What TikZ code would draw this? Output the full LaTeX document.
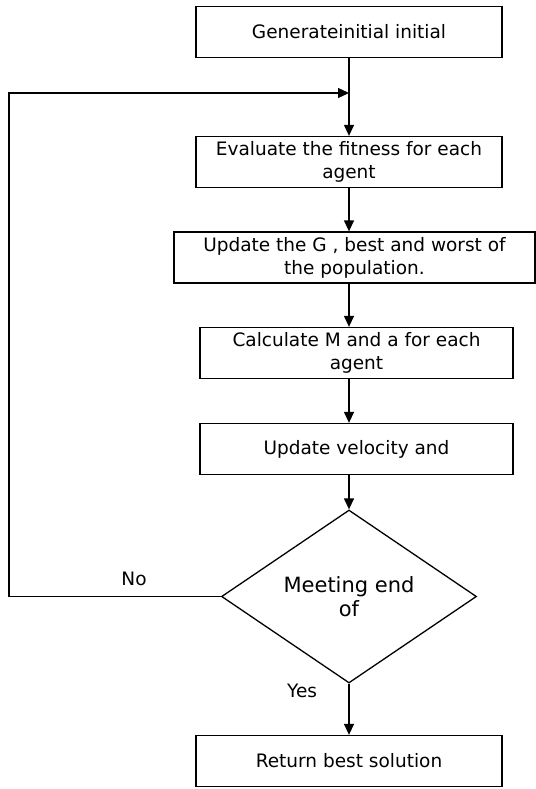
\documentclass[tikz,border=0pt]{standalone}
\usepackage{fontspec}
\setmainfont{DejaVu Sans}
\usetikzlibrary{shapes.geometric,arrows.meta}

\begin{document}
\begin{tikzpicture}[x=1pt, y=1pt, line width=1.3pt,
    box/.style = {draw, rectangle, minimum width=306pt, minimum height=51pt, align=center, font=\fontsize{18.5}{23}\selectfont, inner sep=2pt},
    decision/.style = {draw, diamond, minimum width=255pt, minimum height=173pt, aspect=1.47, inner sep=0pt, align=center, font=\fontsize{21}{24}\selectfont},
    lbl/.style = {font=\fontsize{18.5}{22}\selectfont},
    arr/.style = {-{Triangle[length=11pt,width=10pt]}}]
		\useasboundingbox (0,0) rectangle (535,-789);
		\node[box] (gen) at (349,-32) {Generateinitial initial};
		\node[box] (eval) at (349,-162) {Evaluate the fitness for each\\agent};
		\node[box, minimum width=361pt] (upd) at (354.5,-257.5) {Update the G , best and worst of\\the population.};
		\node[box, minimum width=313pt] (calc) at (356.5,-353) {Calculate M and a for each\\agent};
		\node[box, minimum width=313pt] (vel) at (356.5,-449) {Update velocity and};
		\node[decision] (meet) at (349,-596.5) {Meeting end\\of};
		\node[box] (ret) at (349,-761) {Return best solution};
		\coordinate (corner) at (9,-596.5);
		\coordinate (top) at (9,-93);
		\coordinate (join) at (349,-93);
		
		\draw[arr] (gen) -- (eval);
		\draw[arr] (eval) -- (eval |- upd.north);
		\draw[arr] (eval |- upd.south) -- (eval |- calc.north);
		\draw[arr] (eval |- calc.south) -- (eval |- vel.north);
		\draw[arr] (eval |- vel.south) -- (meet);
		\draw[arr] (meet) -- node [lbl, pos=0.15, left=28pt] {Yes} (ret);
		\draw[arr] (meet.west) -- node [lbl, pos=0.41, above=7pt] {No} (corner) -- (top) -- (join);
		\end{tikzpicture}
\end{document}
